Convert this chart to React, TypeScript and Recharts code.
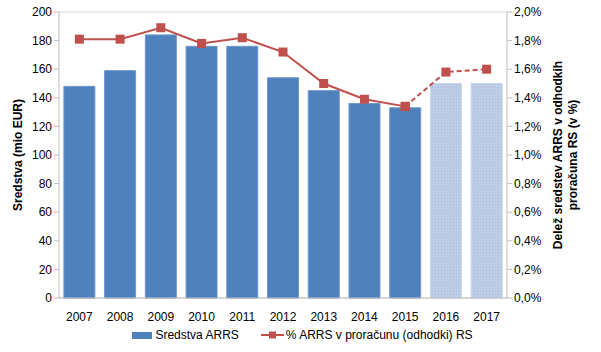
import React from "react";
import {
  ComposedChart,
  Bar,
  Line,
  XAxis,
  YAxis,
  CartesianGrid,
  Legend,
  Cell,
} from "recharts";

const years = ["2007", "2008", "2009", "2010", "2011", "2012", "2013", "2014", "2015", "2016", "2017"];
const funds = [148, 159, 184, 176, 176, 154, 145, 136, 133, 150, 150];
const shareActual = [1.81, 1.81, 1.89, 1.78, 1.82, 1.72, 1.5, 1.39, 1.34, null, null];
const sharePlanned = [null, null, null, null, null, null, null, null, 1.34, 1.58, 1.6];
const plannedYears = ["2016", "2017"];
const leftTicks = [0, 20, 40, 60, 80, 100, 120, 140, 160, 180, 200];
const rightTicks = [0, 0.2, 0.4, 0.6, 0.8, 1.0, 1.2, 1.4, 1.6, 1.8, 2.0];

const data = years.map((y, i) => ({
  year: y,
  funds: funds[i],
  actual: shareActual[i],
  planned: sharePlanned[i],
}));

const FONT = "'Liberation Sans', Arial, sans-serif";
const BLUE = "#4f81bd";
const RED = "#c0504d";

function SquareDot(props: any) {
  const { cx, cy, value, index } = props;
  if (value == null || cx == null || cy == null) return <g key={index} />;
  return <rect key={index} x={cx - 4.5} y={cy - 4.5} width={9} height={9} fill={RED} />;
}

function LeftLabel({ viewBox }: any) {
  const cy = viewBox.y + viewBox.height / 2;
  return (
    <text
      x={18}
      y={cy}
      transform={`rotate(-90, 18, ${cy})`}
      textAnchor="middle"
      dominantBaseline="central"
      fontFamily={FONT}
      fontSize={12}
      fontWeight="bold"
      fill="#000"
    >
      Sredstva (mio EUR)
    </text>
  );
}

function RightLabel({ viewBox }: any) {
  const cy = viewBox.y + viewBox.height / 2;
  return (
    <g fontFamily={FONT} fontSize={12} fontWeight="bold" fill="#000">
      <text
        x={558}
        y={cy}
        transform={`rotate(-90, 558, ${cy})`}
        textAnchor="middle"
        dominantBaseline="central"
      >
        Delež sredstev ARRS v odhodkih
      </text>
      <text
        x={573}
        y={cy}
        transform={`rotate(-90, 573, ${cy})`}
        textAnchor="middle"
        dominantBaseline="central"
      >
        proračuna RS (v %)
      </text>
    </g>
  );
}

function ChartLegend() {
  return (
    <div
      style={{
        display: "flex",
        justifyContent: "center",
        alignItems: "center",
        fontFamily: FONT,
        fontSize: 12,
        color: "#000",
        gap: 22,
        paddingLeft: 34,
      }}
    >
      <span style={{ display: "flex", alignItems: "center" }}>
        <span style={{ width: 20, height: 7, background: BLUE, marginRight: 3 }} />
        Sredstva ARRS
      </span>
      <span style={{ display: "flex", alignItems: "center" }}>
        <svg width={23} height={10} style={{ marginRight: 2 }}>
          <line x1={0} y1={5} x2={23} y2={5} stroke={RED} strokeWidth={2} />
          <rect x={8} y={1.5} width={7} height={7} fill={RED} />
        </svg>
        % ARRS v proračunu (odhodki) RS
      </span>
    </div>
  );
}

export default function App() {
  return (
    <div style={{ position: "absolute", left: 0, top: 0, background: "#fff" }}>
      <ComposedChart
        width={601}
        height={352}
        data={data}
        margin={{ top: 12, right: 50, left: 20, bottom: 6 }}
        barCategoryGap="12%"
      >
        <defs>
          <pattern id="hatch" width="3" height="3" patternUnits="userSpaceOnUse">
            <rect width="3" height="3" fill="#bccde5" />
            <rect x="0" y="0" width="1" height="1" fill="#a9bedc" />
          </pattern>
        </defs>
        <CartesianGrid stroke="#d9d9d9" vertical={false} />
        <XAxis
          dataKey="year"
          height={30}
          tick={{ fill: "#000", fontSize: 12, fontFamily: FONT }}
          tickLine={false}
          axisLine={{ stroke: "#bfbfbf" }}
          tickMargin={8}
        />
        <YAxis
          yAxisId="left"
          domain={[0, 200]}
          ticks={leftTicks}
          width={39}
          interval={0}
          tick={{ fill: "#000", fontSize: 12, fontFamily: FONT }}
          tickLine={{ stroke: "#bfbfbf" }}
          tickSize={5}
          axisLine={{ stroke: "#bfbfbf" }}
          label={<LeftLabel />}
        />
        <YAxis
          yAxisId="right"
          orientation="right"
          domain={[0, 2]}
          ticks={rightTicks}
          width={44}
          interval={0}
          tickFormatter={(v: number) => v.toFixed(1).replace(".", ",") + "%"}
          tick={{ fill: "#000", fontSize: 12, fontFamily: FONT }}
          tickLine={{ stroke: "#bfbfbf" }}
          tickSize={5}
          axisLine={{ stroke: "#bfbfbf" }}
          label={<RightLabel />}
        />
        <Legend content={<ChartLegend />} verticalAlign="bottom" height={18} />
        <Bar yAxisId="left" dataKey="funds" isAnimationActive={false} stroke="#6f97c9" strokeWidth={1}>
          {years.map((y) => (
            <Cell
              key={y}
              fill={plannedYears.includes(y) ? "url(#hatch)" : BLUE}
              stroke={plannedYears.includes(y) ? "#c6d6ea" : "#6f97c9"}
            />
          ))}
        </Bar>
        <Line
          yAxisId="right"
          dataKey="actual"
          stroke={RED}
          strokeWidth={2}
          dot={SquareDot}
          activeDot={false}
          isAnimationActive={false}
          connectNulls={false}
        />
        <Line
          yAxisId="right"
          dataKey="planned"
          stroke={RED}
          strokeWidth={2}
          strokeDasharray="5 3"
          dot={SquareDot}
          activeDot={false}
          isAnimationActive={false}
          connectNulls={false}
        />
      </ComposedChart>
    </div>
  );
}
